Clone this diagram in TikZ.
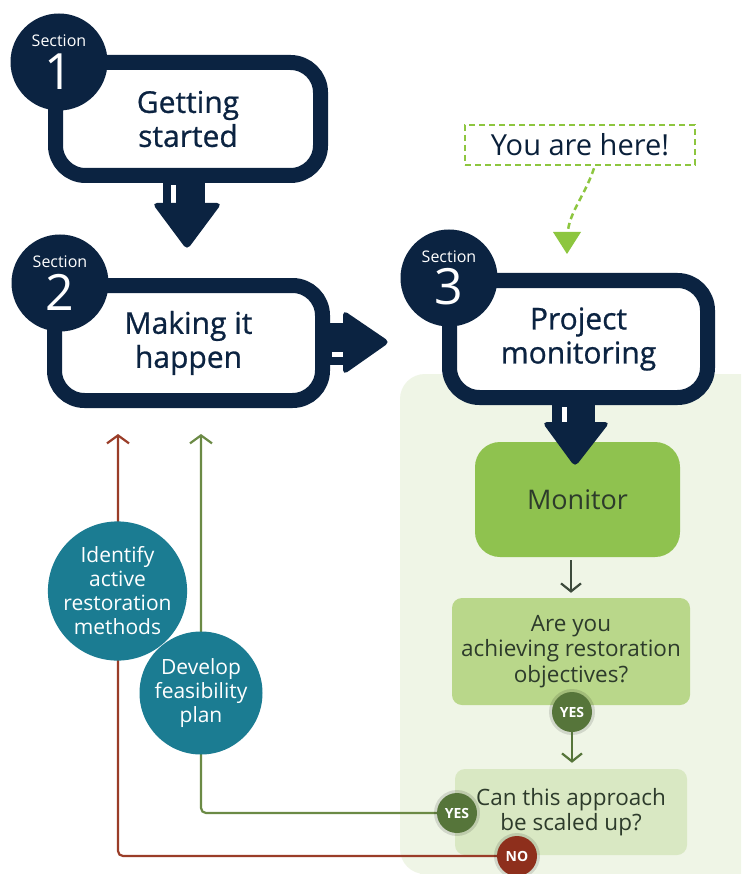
\documentclass[tikz,border=0pt]{standalone}
\usepackage{fontspec}
\setmainfont{Open Sans}
\newfontfamily\headfont{Open Sans}[FakeBold=0.8]
\usetikzlibrary{arrows.meta,calc}
\definecolor{navy}{HTML}{0B2341}
\definecolor{teal}{HTML}{1B7C92}
\definecolor{panel}{HTML}{EFF5E6}
\definecolor{mongreen}{HTML}{8FC24F}
\definecolor{qone}{HTML}{B9D78A}
\definecolor{qtwo}{HTML}{D9E8C3}
\definecolor{yesgreen}{HTML}{56753A}
\definecolor{nored}{HTML}{8E2F1C}
\definecolor{redline}{HTML}{9A3D28}
\definecolor{greenline}{HTML}{6B8A45}
\definecolor{dashgreen}{HTML}{8DC63F}
\definecolor{darktext}{HTML}{2D3B2B}
\definecolor{arrowgray}{HTML}{3D4A3C}
\tikzset{
  secbox/.style={draw=navy, line width=15pt, fill=white, rounded corners=30pt,
    inner sep=0pt, align=center, text=navy, font=\headfont\fontsize{30}{34}\selectfont},
  secdot/.style={circle, fill=navy, minimum size=97pt, inner sep=0pt},
  seclab/.style={text=white, font=\fontsize{16}{16}\selectfont, inner sep=0pt},
  secnum/.style={text=white, font=\fontsize{50}{50}\selectfont, inner sep=0pt},
  qbox/.style={rounded corners=10pt, inner sep=0pt, align=center, text=darktext,
    font=\fontsize{22.5}{25.5}\selectfont},
  tealdot/.style={circle, fill=teal, inner sep=0pt, align=center, text=white,
    font=\fontsize{21}{24}\selectfont},
  tag/.style={circle, minimum size=40pt, inner sep=0pt, text=white,
    font=\bfseries\fontsize{14}{14}\selectfont},
  glow/.style={circle, minimum size=46pt, inner sep=0pt, fill=black, opacity=0.12},
  thinarrow/.style={line width=2.2pt, -{Straight Barb[length=8pt,width=20pt,line width=2.2pt]}},
  blockhead/.style={fill=navy, rounded corners=5pt}
}
\begin{document}
\begin{tikzpicture}[x=1pt,y=-1pt]
\useasboundingbox (0,0) rectangle (741,874);
\fill[white] (0,0) rectangle (741,874);
% light panel
\fill[panel, rounded corners=25pt] (741,374) -- (400,374) -- (400,874) -- (741,874);
\fill[panel] (720,374) rectangle (741,874);
\fill[panel] (420,850) rectangle (741,874);

% section boxes
\node[secbox, minimum width=265pt, minimum height=113pt] (box1) at (188,119) {Getting\\started};
\node[secbox, minimum width=268pt, minimum height=115pt] (box2) at (188.5,343) {Making it\\happen};
\node[secbox, minimum width=258pt, minimum height=117pt] (box3) at (578.5,339) {Project\\monitoring};

% section circles
\node[secdot] (c1) at (59,62) {};
\node[seclab] (s1) at (59,41) {Section};
\node[secnum] (n1) at (59,72) {1};
\node[secdot] (c2) at (60,283) {};
\node[seclab] (s2) at (60,262) {Section};
\node[secnum] (n2) at (60,292) {2};
\node[secdot] (c3) at (449,278) {};
\node[seclab] (s3) at (449,257) {Section};
\node[secnum] (n3) at (449,287) {3};

% block arrow 1 -> 2
\fill[navy] ($(box1.south)+(-25,-2)$) rectangle ($(box1.south)+(17,22)$);
\fill[white] ($(box1.south)+(-17,2)$) rectangle ($(box1.south)+(-12,21)$);
\fill[blockhead] ($(box1.south)+(-36,20)$) -- ($(box1.south)+(34,20)$) -- ($(box1.south)+(-1,67)$) -- cycle;

% block arrow 2 -> 3
\fill[navy] ($(box2.east)+(-2,-20)$) rectangle ($(box2.east)+(15,22)$);
\fill[white] ($(box2.east)+(2,9)$) rectangle ($(box2.east)+(14,14)$);
\fill[blockhead] ($(box2.east)+(13,-33)$) -- ($(box2.east)+(13,32)$) -- ($(box2.east)+(60,-1)$) -- cycle;

% block arrow 3 -> monitor
\fill[navy] ($(box3.south)+(-26.5,-2)$) rectangle ($(box3.south)+(16.5,19)$);
\fill[white] ($(box3.south)+(-16.5,2)$) rectangle ($(box3.south)+(-11.5,18)$);

% monitor and questions
\node[rounded corners=25pt, fill=mongreen, minimum width=205pt, minimum height=115pt,
  text=darktext, font=\fontsize{27}{30}\selectfont] (monitor) at (577.5,499.5) {Monitor};
\fill[blockhead] ($(box3.south)+(-36.5,17)$) -- ($(box3.south)+(31.5,17)$) -- ($(box3.south)+(-3.5,62)$) -- cycle;

\node[qbox, fill=qone, minimum width=238pt, minimum height=107pt] (q1) at (571,651.5)
  {Are you\\achieving restoration\\objectives?};
\node[qbox, fill=qtwo, minimum width=232pt, minimum height=86pt] (q2) at (571,812)
  {Can this approach\\be scaled up?};

\draw[thinarrow, draw=arrowgray] ($(monitor.south -| q1.north)+(0,3)$) -- ($(q1.north)+(0,-5)$);

% you are here
\node[draw=dashgreen, line width=2.5pt, dash pattern=on 6pt off 4pt, minimum width=230pt,
  minimum height=40pt, inner sep=0pt, text=navy!90!black, font=\fontsize{29}{30}\selectfont] (here) at (580,145) {You are here!};
\coordinate (pin) at (567,254);
\draw[dashgreen, line width=2.5pt, dash pattern=on 6pt off 4pt]
  ($(here.south)+(14,2)$) .. controls (585,195) and (571,210) .. ($(pin)+(1,-24)$);
\fill[dashgreen] ($(pin)+(-14,-22)$) -- ($(pin)+(14,-22)$) -- (pin) -- cycle;

% loop-back lines
\coordinate (redtop) at (118,434);
\coordinate (greentop) at (201,434);
\node[glow] at (572,712) {};
\node[tag, fill=yesgreen] (yes1) at (572,712) {YES};
\draw[thinarrow, draw=yesgreen] (yes1.south) -- ($(q2.north)+(1,-6)$);
\draw[greenline, line width=2.2pt, rounded corners=5pt, -{Straight Barb[length=8pt,width=22pt,line width=2.2pt]}]
  (457,813) -| (greentop);
\draw[redline, line width=2.2pt, rounded corners=5pt, -{Straight Barb[length=8pt,width=22pt,line width=2.2pt]}]
  (517,856) -| (redtop);
\node[glow] at (457,813) {};
\node[tag, fill=yesgreen] (yes2) at (457,813) {YES};
\node[glow] at (517,856) {};
\node[tag, fill=nored] (no) at (517,856) {NO};

\node[tealdot, minimum size=132pt] (identify) at (117.5,591) {Identify\\active\\restoration\\methods};
\node[tealdot, minimum size=123pt] (develop) at (201,693) {Develop\\feasibility\\plan};
\end{tikzpicture}
\end{document}
